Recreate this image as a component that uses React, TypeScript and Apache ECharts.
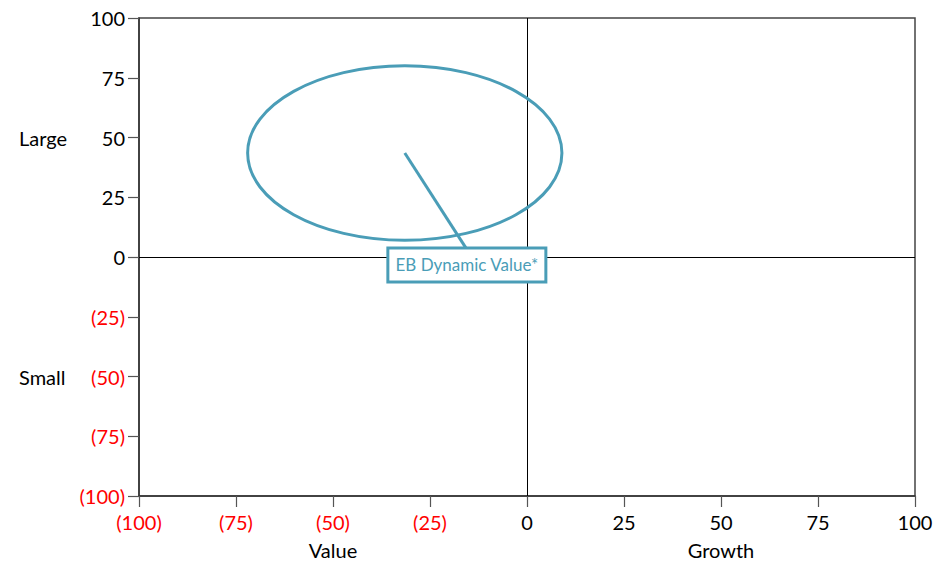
import React, { useEffect, useRef } from "react";
import * as echarts from "echarts";

const X_MIN = -100;
const X_MAX = 100;
const Y_MIN = -100;
const Y_MAX = 100;
const TICK_STEP = 25;

// quadrant names attached to tick values
const xNameValues = [-50, 50];
const xNames = ["Value", "Growth"];
const yNameValues = [50, -50];
const yNames = ["Large", "Small"];

// ellipse: center (x, y) and radii (x, y) in axis units
const ellipseCenter = [-31.5, 43.5];
const ellipseRadius = [40.5, 36.5];
// label anchor (center of the label box) in axis units
const labelAnchor = [-15.5, -3.3];
const labelText = "EB Dynamic Value*";

const TEAL = "#4a9db7";
const RED = "#ff0000";
const FONT = "Lato, 'Open Sans', sans-serif";
const FS = 20;

function fmtNum(v: number, prefix: string): string {
  return v < 0 ? "{" + prefix + "neg|(" + Math.abs(v) + ")}" : "{" + prefix + "pos|" + v + "}";
}

export default function App() {
  const ref = useRef<HTMLDivElement>(null);
  useEffect(() => {
    if (!ref.current) return;
    const chart = echarts.init(ref.current, undefined, { renderer: "svg" });
    const base = { fontSize: FS, fontFamily: FONT, lineHeight: 28 };
    const option: any = {
      animation: false,
      grid: {
        left: 139,
        right: 36,
        top: 18,
        bottom: 67,
        show: true,
        borderColor: "#444",
        borderWidth: 1.5,
        containLabel: false,
      },
      xAxis: {
        type: "value",
        min: X_MIN,
        max: X_MAX,
        interval: TICK_STEP,
        axisLine: { onZero: false, lineStyle: { color: "#333", width: 1.5 } },
        axisTick: { show: true, length: 11, lineStyle: { color: "#555", width: 1.2 } },
        splitLine: { show: false },
        axisLabel: {
          margin: 12,
          fontFamily: FONT,
          fontSize: FS,
          formatter: (v: number) => {
            const idx = xNameValues.indexOf(v);
            const s = fmtNum(v, "x");
            return idx >= 0 ? s + "\n{name|" + xNames[idx] + "}" : s;
          },
          rich: {
            xneg: { ...base, color: RED },
            xpos: { ...base, color: "#000" },
            name: { ...base, color: "#000" },
          },
        },
      },
      yAxis: {
        type: "value",
        min: Y_MIN,
        max: Y_MAX,
        interval: TICK_STEP,
        axisLine: { onZero: false, lineStyle: { color: "#333", width: 1.5 } },
        axisTick: { show: true, length: 11, lineStyle: { color: "#555", width: 1.2 } },
        splitLine: { show: false },
        axisLabel: {
          margin: 14,
          fontFamily: FONT,
          fontSize: FS,
          formatter: (v: number) => {
            const idx = yNameValues.indexOf(v);
            const s = fmtNum(v, "y");
            return idx >= 0 ? "{yname|" + yNames[idx] + "}" + s : s;
          },
          rich: {
            yneg: { ...base, color: RED, width: 42, align: "right" },
            ypos: { ...base, color: "#000", width: 42, align: "right" },
            yname: { ...base, color: "#000", width: 64, align: "left" },
          },
        },
      },
      series: [
        {
          type: "custom",
          coordinateSystem: "cartesian2d",
          data: [[ellipseCenter[0], ellipseCenter[1], ellipseRadius[0], ellipseRadius[1], labelAnchor[0], labelAnchor[1]]],
          renderItem: (params: any, api: any) => {
            const c = api.coord([api.value(0), api.value(1)]);
            const size = api.size([api.value(2), api.value(3)]);
            const lab = api.coord([api.value(4), api.value(5)]);
            const bw = 158;
            const bh = 34;
            return {
              type: "group",
              children: [
                {
                  type: "ellipse",
                  shape: { cx: c[0], cy: c[1], rx: size[0], ry: size[1] },
                  style: { fill: "none", stroke: TEAL, lineWidth: 3 },
                },
                {
                  type: "line",
                  shape: { x1: c[0], y1: c[1], x2: lab[0] - 1, y2: lab[1] - bh / 2 },
                  style: { stroke: TEAL, lineWidth: 3 },
                },
                {
                  type: "rect",
                  shape: { x: lab[0] - bw / 2, y: lab[1] - bh / 2, width: bw, height: bh },
                  style: { fill: "#fff", stroke: TEAL, lineWidth: 3 },
                },
                {
                  type: "text",
                  x: lab[0],
                  y: lab[1],
                  style: {
                    text: labelText,
                    fill: TEAL,
                    fontSize: 17,
                    fontFamily: FONT,
                    align: "center",
                    verticalAlign: "middle",
                  },
                },
              ],
            };
          },
          markLine: {
            silent: true,
            symbol: "none",
            label: { show: false },
            lineStyle: { color: "#000", width: 1, type: "solid" },
            data: [{ xAxis: 0 }, { yAxis: 0 }],
            z: 1,
          },
          z: 5,
        },
      ],
    };
    chart.setOption(option);
    return () => chart.dispose();
  }, []);
  return (
    <div
      ref={ref}
      style={{ position: "absolute", left: 0, top: 0, width: 951, height: 563 }}
    />
  );
}
